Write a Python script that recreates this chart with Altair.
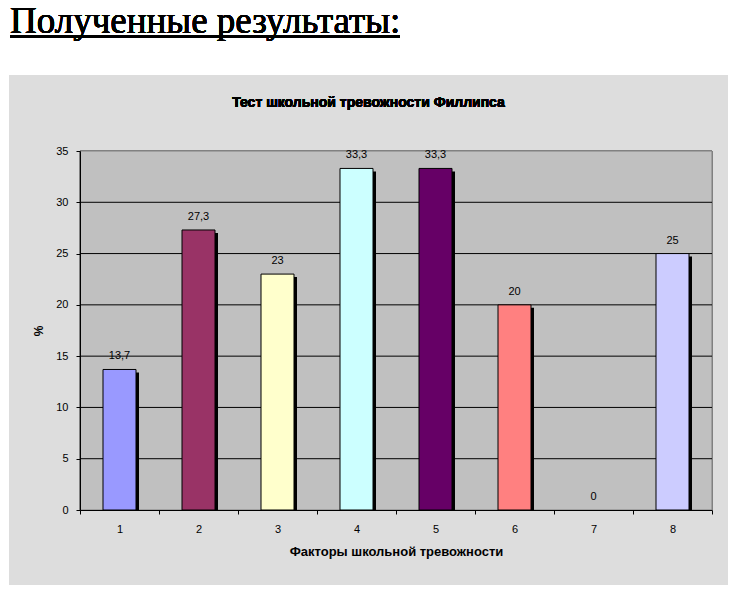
import altair as alt
import pandas as pd

HEADING = "Полученные результаты:"
TITLE = "Тест школьной тревожности Филлипса"
X_TITLE = "Факторы школьной тревожности"
Y_TITLE = "%"

categories = ["1", "2", "3", "4", "5", "6", "7", "8"]
values = [13.7, 27.3, 23, 33.3, 33.3, 20, 0, 25]
labels = ["13,7", "27,3", "23", "33,3", "33,3", "20", "0", "25"]
colors = ["#9999FF", "#993366", "#FFFFCC", "#CCFFFF", "#660066", "#FF8080", "#FFFFC0", "#CCCCFF"]
y_ticks = [0, 5, 10, 15, 20, 25, 30, 35]
grid_values = [5, 10, 15, 20, 25, 30]

df = pd.DataFrame({"cat": categories, "val": values, "lab": labels})
grid_df = pd.DataFrame({"g": grid_values})

W, H = 632, 359
FONT = "Liberation Sans"

xenc = alt.X("cat:N", sort=categories,
             scale=alt.Scale(paddingInner=0, paddingOuter=0),
             axis=alt.Axis(title=X_TITLE, labelAngle=0, tickBand="extent", tickSize=4,
                           tickColor="black", domainColor="black", labelFont=FONT,
                           labelFontSize=11, labelColor="black", labelPadding=9,
                           titleFont=FONT, titleFontSize=13, titleFontWeight="bold",
                           titleColor="black", titlePadding=11, zindex=1, grid=False))
yscale = alt.Scale(domain=[0, 35], nice=False)
yenc = alt.Y("val:Q", scale=yscale,
             axis=alt.Axis(title=Y_TITLE, values=y_ticks, tickSize=4, tickColor="black",
                           domainColor="black", labelFont=FONT, labelFontSize=11,
                           labelColor="black", labelPadding=8, titleFont=FONT,
                           titleFontSize=12, titleFontWeight="bold", titleColor="black",
                           titlePadding=10, zindex=1, grid=False))

box = alt.Chart(df).mark_rect(color="#DDDDDD").encode(
    x=alt.value(-71), x2=alt.value(648), y=alt.value(-76), y2=alt.value(434))
plotbg = alt.Chart(df).mark_rect(color="#C0C0C0", stroke="#808080", strokeWidth=1).encode(
    x=alt.value(0), x2=alt.value(W), y=alt.value(0), y2=alt.value(H))
heading = alt.Chart(df).mark_text(align="left", baseline="alphabetic", font="Liberation Serif",
                                  fontSize=37, color="black").encode(
    x=alt.value(-70), y=alt.value(-118), text=alt.value(HEADING))
underline = alt.Chart(df).mark_rule(color="black", strokeWidth=2).encode(
    x=alt.value(-70), x2=alt.value(320), y=alt.value(-114.5))
title = alt.Chart(df).mark_text(align="center", baseline="middle", font=FONT, fontSize=14,
                                fontWeight="bold", color="black").encode(
    x=alt.value(288.5), y=alt.value(-48), text=alt.value(TITLE))
grid = alt.Chart(grid_df).mark_rule(color="black", strokeWidth=1).encode(
    y=alt.Y("g:Q", scale=yscale))
shadow = alt.Chart(df).mark_bar(color="black", size=33, xOffset=3, x2Offset=3,
                                yOffset=3, y2Offset=3, clip=True).encode(x=xenc, y=yenc)
bars = alt.Chart(df).mark_bar(size=33, stroke="black", strokeWidth=1).encode(
    x=xenc, y=yenc,
    color=alt.Color("cat:N", scale=alt.Scale(domain=categories, range=colors), legend=None),
    strokeOpacity=alt.condition("datum.val == 0", alt.value(0), alt.value(1)))
texts = alt.Chart(df).mark_text(baseline="alphabetic", dy=-10, font=FONT, fontSize=11,
                                color="black").encode(x=xenc, y=yenc, text="lab:N")

chart = alt.layer(box, plotbg, heading, underline, title, grid, shadow, bars, texts).properties(
    width=W, height=H, background="white",
    autosize=alt.AutoSizeParams(type="none"),
    padding={"left": 80, "top": 151, "right": 27, "bottom": 85},
).configure_view(stroke=None)

chart.save("out.html", embed_options={"renderer": "svg", "actions": False})
